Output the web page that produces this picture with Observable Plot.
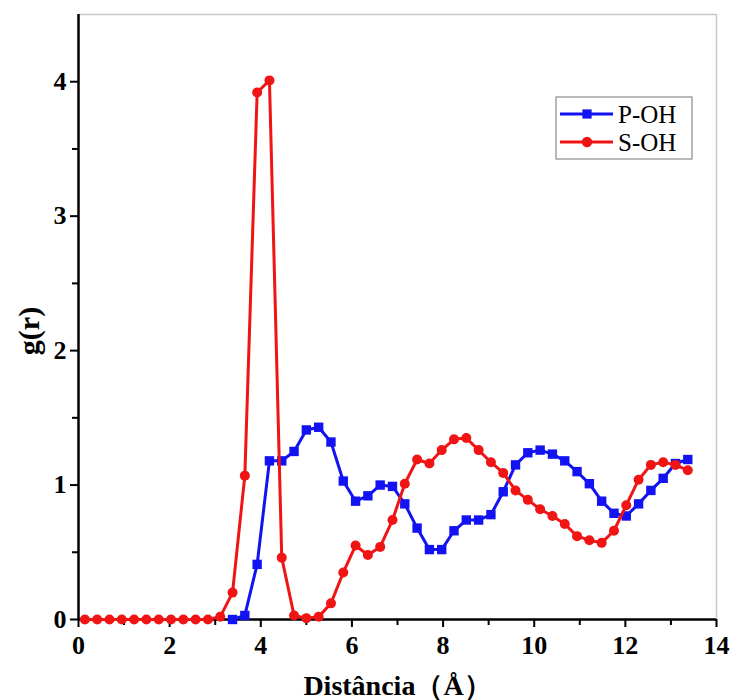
<!DOCTYPE html>
<html>
<head>
<meta charset="utf-8">
<script src="https://cdn.jsdelivr.net/npm/d3@7"></script>
<script src="https://cdn.jsdelivr.net/npm/@observablehq/plot@0.6"></script>
<style>
  html, body { margin: 0; padding: 0; background: white; }
  #chart { position: relative; width: 735px; height: 700px; }
</style>
</head>
<body>
<div id="chart"></div>
<script>
// Distance (Å) sample positions
const distances = [0.14, 0.41, 0.68, 0.95, 1.22, 1.49, 1.76, 2.03, 2.30, 2.57,
  2.84, 3.11, 3.38, 3.65, 3.92, 4.19, 4.46, 4.73, 5.00, 5.27,
  5.54, 5.81, 6.08, 6.35, 6.62, 6.89, 7.16, 7.43, 7.70, 7.97,
  8.24, 8.51, 8.78, 9.05, 9.32, 9.59, 9.86, 10.13, 10.40, 10.67,
  10.94, 11.21, 11.48, 11.75, 12.02, 12.29, 12.56, 12.83, 13.10, 13.37];

// g(r) for P-OH
const pOH = [null, null, null, null, null, null, null, null, null, null,
  null, null, 0.00, 0.03, 0.41, 1.18, 1.18, 1.25, 1.41, 1.43,
  1.32, 1.03, 0.88, 0.92, 1.00, 0.99, 0.86, 0.68, 0.52, 0.52,
  0.66, 0.74, 0.74, 0.78, 0.95, 1.15, 1.24, 1.26, 1.23, 1.18,
  1.10, 1.01, 0.88, 0.79, 0.77, 0.86, 0.96, 1.05, 1.16, 1.19];

// g(r) for S-OH
const sOH = [0, 0, 0, 0, 0, 0, 0, 0, 0, 0,
  0, 0.02, 0.20, 1.07, 3.92, 4.01, 0.46, 0.03, 0.01, 0.02,
  0.12, 0.35, 0.55, 0.48, 0.54, 0.74, 1.01, 1.19, 1.16, 1.26,
  1.34, 1.35, 1.26, 1.17, 1.09, 0.96, 0.89, 0.82, 0.77, 0.71,
  0.62, 0.59, 0.57, 0.66, 0.85, 1.04, 1.15, 1.17, 1.15, 1.11];

const seriesNames = ["P-OH", "S-OH"];
const xMajorTicks = [0, 2, 4, 6, 8, 10, 12, 14];
const xMinorTicks = [1, 3, 5, 7, 9, 11, 13];
const yMajorTicks = [0, 1, 2, 3, 4];
const yMinorTicks = [0.5, 1.5, 2.5, 3.5];
const xLabel = "Distância（Å）";
const yLabel = "g(r)";

const BLUE = "#1212f2";
const RED = "#f01414";
const SERIF = "'Liberation Serif', 'Times New Roman', 'DejaVu Serif', serif";

const rows = distances.map((x, i) => ({x, p: pOH[i], s: sOH[i]}));

const chart = Plot.plot({
  width: 735,
  height: 700,
  marginLeft: 78,
  marginRight: 19,
  marginTop: 14,
  marginBottom: 81,
  style: {fontFamily: SERIF, background: "white", color: "black"},
  x: {domain: [0, 14]},
  y: {domain: [0, 4.5]},
  marks: [
    Plot.ruleY([4.5], {stroke: "#c8c8c8", strokeWidth: 1.5}),
    Plot.ruleX([14], {stroke: "#c8c8c8", strokeWidth: 1.5}),
    Plot.axisX({ticks: xMajorTicks, tickSize: 8, tickPadding: 8, strokeWidth: 2,
      tickFormat: d => String(d), label: null, fontSize: 26, fontWeight: "bold"}),
    Plot.axisX({ticks: xMinorTicks, tickSize: 6, strokeWidth: 2, text: null, label: null}),
    Plot.axisY({ticks: yMajorTicks, tickSize: 8, tickPadding: 4, strokeWidth: 2,
      tickFormat: d => String(d), label: null, fontSize: 26, fontWeight: "bold"}),
    Plot.axisY({ticks: yMinorTicks, tickSize: 6, strokeWidth: 2, text: null, label: null}),
    Plot.ruleX([0], {stroke: "black", strokeWidth: 2.5}),
    Plot.ruleY([0], {stroke: "black", strokeWidth: 2.5}),
    Plot.text([yLabel], {frameAnchor: "left", dx: -49, dy: 14, rotate: -90, fontSize: 30,
      textAnchor: "middle", lineAnchor: "middle", fontWeight: "bold", fill: "black"}),
    Plot.text([xLabel], {frameAnchor: "bottom", dy: 67, lineAnchor: "middle", fontSize: 28,
      fontWeight: "bold", fill: "black"}),
    Plot.line(rows, {x: "x", y: "p", stroke: BLUE, strokeWidth: 3}),
    Plot.dot(rows, {x: "x", y: "p", symbol: "square", fill: BLUE, stroke: "none", r: 5.3}),
    Plot.line(rows, {x: "x", y: "s", stroke: RED, strokeWidth: 3}),
    Plot.dot(rows, {x: "x", y: "s", symbol: "circle", fill: RED, stroke: "none", r: 5})
  ]
});

document.getElementById("chart").appendChild(chart);

// Legend box (drawn into the same SVG)
const svg = d3.select(chart);
const lg = svg.append("g").attr("transform", "translate(556,97)");
lg.append("rect").attr("width", 136).attr("height", 62)
  .attr("fill", "white").attr("stroke", "#8a8a8a").attr("stroke-width", 1.2);
const legendItems = [
  {name: seriesNames[0], color: BLUE, symbol: d3.symbolSquare},
  {name: seriesNames[1], color: RED, symbol: d3.symbolCircle}
];
legendItems.forEach((d, i) => {
  const y = 17 + i * 28;
  lg.append("line").attr("x1", 4).attr("x2", 57).attr("y1", y).attr("y2", y)
    .attr("stroke", d.color).attr("stroke-width", 3);
  lg.append("path").attr("transform", `translate(31,${y})`)
    .attr("d", d3.symbol(d.symbol, Math.PI * 5.2 * 5.2)()).attr("fill", d.color);
  lg.append("text").attr("x", 62).attr("y", y).attr("dy", "0.35em")
    .attr("text-anchor", "start")
    .attr("font-family", SERIF).attr("font-size", 25).attr("fill", "black")
    .text(d.name);
});
</script>
</body>
</html>
